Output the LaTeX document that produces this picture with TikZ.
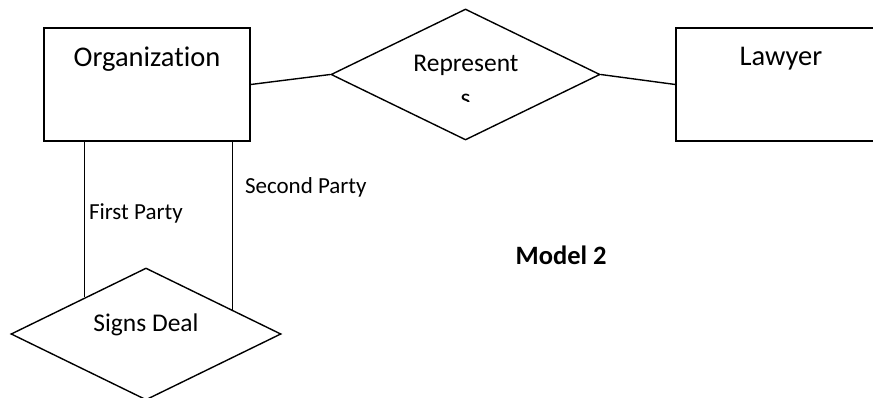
\documentclass[tikz,border=0pt]{standalone}
\usepackage{fontspec}
\setmainfont{Carlito}[Ligatures=NoCommon]
\usetikzlibrary{shapes.geometric,calc}
\begin{document}
\begin{tikzpicture}[x=1pt,y=-1pt,
  line width=1.4pt,
  entity/.style={draw, rectangle, inner sep=0pt},
  relation/.style={draw, diamond, inner sep=0pt},
  txt/.style={anchor=base west, inner sep=0pt},
  lbl/.style={txt, font=\fontsize{23}{27}\selectfont},
  big/.style={txt, font=\fontsize{28.5}{33}\selectfont},
  mid/.style={txt, font=\fontsize{25.5}{30}\selectfont}]
\clip (0,0) rectangle (873,398);

% entities
\node[entity, minimum width=206pt, minimum height=113pt] (org) at (147,84.5) {};
\node[entity, minimum width=224pt, minimum height=113pt] (law) at (788,84.5) {};
\node[big] (orgtxt) at (73,66.7) {Organization};
\node[big] (lawtxt) at (739,65.7) {Lawyer};

% relationships
\node[relation, minimum width=269pt, minimum height=131pt] (rep) at (465.5,74.5) {};
\node[relation, minimum width=270pt, minimum height=132pt] (sd) at (146,334) {};
\node[mid] (reptxt) at (412.7,71.7) {Represent};
\begin{scope}
  \clip (440,88) rectangle (490,102);
  \node[mid, anchor=base] (reps) at (465.5,107) {s};
\end{scope}
\node[mid] (sdtxt) at (92.7,331) {Signs Deal};

% connectors
\draw (org.east) -- (rep.west);
\draw (rep.east) -- (law.west);
\coordinate (fpend) at ($(sd.west)!0.548!(sd.north)$);
\coordinate (spend) at ($(sd.north)!0.637!(sd.east)$);
\draw (fpend |- org.south) -- (fpend);
\draw (spend |- org.south) -- (spend);

% role labels and title
\node[lbl] (fp) at (88.3,219.3) {First Party};
\node[lbl] (sp) at (244.3,194) {Second Party};
\node[txt, font=\fontsize{26.5}{31}\selectfont\bfseries] (title) at (515,265) {Model 2};
\end{tikzpicture}
\end{document}
